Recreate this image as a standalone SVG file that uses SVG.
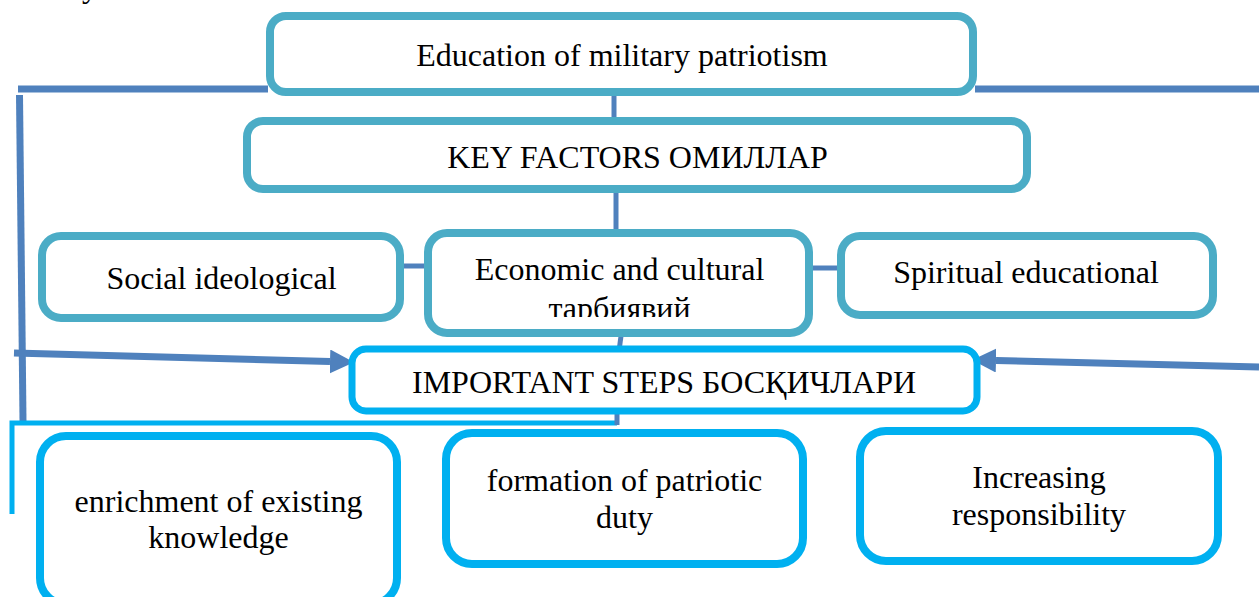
<svg xmlns="http://www.w3.org/2000/svg" width="1259" height="597" viewBox="0 0 1259 597">
<style>
  .teal { fill: #ffffff; stroke: #4BACC6; stroke-width: 8; }
  .cyan { fill: #ffffff; stroke: #00B0F0; stroke-width: 8; }
  .t { font-family: "Liberation Serif", "Times New Roman", serif; font-size: 32px; fill: #000000; text-anchor: middle; }
  .c { stroke: #4F81BD; stroke-width: 7; fill: none; }
  .cs { stroke: #4F81BD; stroke-width: 5; fill: none; }
  .cc { stroke: #00B0F0; stroke-width: 5; fill: none; }
</style>
<defs>
  <marker id="arr" markerUnits="userSpaceOnUse" viewBox="0 0 24 24" refX="0" refY="12" markerWidth="24" markerHeight="24" orient="auto">
    <path d="M0,0 L24,12 L0,24 Z" fill="#4F81BD"/>
  </marker>
  <clipPath id="ecoClip"><rect x="428" y="233" width="381" height="84"/></clipPath>
</defs>
<rect width="1259" height="597" fill="#ffffff"/>

<text class="t" x="82" y="-3" text-anchor="start" style="text-anchor:start">y</text>

<g id="connectors">
  <line class="c" x1="18" y1="89" x2="268" y2="89"/>
  <line class="c" x1="975" y1="89" x2="1259" y2="89"/>
  <line class="c" x1="19.5" y1="95" x2="23" y2="421"/>
  <line class="c" x1="14" y1="353" x2="330" y2="361.5" marker-end="url(#arr)"/>
  <line class="c" x1="1259" y1="367" x2="996" y2="360.5" marker-end="url(#arr)"/>
  <line class="cs" x1="614" y1="94" x2="614" y2="123"/>
  <line class="cs" x1="616" y1="191" x2="616" y2="235"/>
  <line class="cs" x1="402" y1="266" x2="425" y2="266"/>
  <line class="cs" x1="813" y1="268" x2="839" y2="268"/>
  <line class="cs" x1="621" y1="336" x2="619" y2="351"/>
  <polyline class="cc" points="617,423 12,423 12,514"/>
  <line class="cs" x1="617" y1="411" x2="617" y2="425"/>
</g>

<g id="node-education">
  <rect class="teal" x="270" y="16" width="703" height="76" rx="16"/>
  <text class="t" x="622" y="66">Education of military patriotism</text>
</g>
<g id="node-keyfactors">
  <rect class="teal" x="247" y="121" width="780" height="68" rx="16"/>
  <text class="t" x="637.5" y="168">KEY FACTORS ОМИЛЛАР</text>
</g>
<g id="node-social">
  <rect class="teal" x="42" y="236" width="358" height="82" rx="19"/>
  <text class="t" x="221.5" y="289">Social ideological</text>
</g>
<g id="node-economic">
  <rect class="teal" x="428" y="233" width="381" height="100" rx="19"/>
  <text class="t" x="619.5" y="280">Economic and cultural</text>
  <text class="t" x="619.5" y="319" clip-path="url(#ecoClip)">тарбиявий</text>
</g>
<g id="node-spiritual">
  <rect class="teal" x="841" y="236" width="372" height="79" rx="19"/>
  <text class="t" x="1026" y="283">Spiritual educational</text>
</g>
<g id="node-important">
  <rect class="cyan" x="352" y="349" width="625" height="62" rx="14" style="stroke-width:7"/>
  <text class="t" x="664" y="393">IMPORTANT STEPS БОСҚИЧЛАРИ</text>
</g>
<g id="node-enrichment">
  <rect class="cyan" x="40" y="436" width="357" height="168" rx="26"/>
  <text class="t" x="218.5" y="512">enrichment of existing</text>
  <text class="t" x="218.5" y="548">knowledge</text>
</g>
<g id="node-formation">
  <rect class="cyan" x="446" y="433" width="357" height="131" rx="26"/>
  <text class="t" x="624.5" y="491">formation of patriotic</text>
  <text class="t" x="624.5" y="528">duty</text>
</g>
<g id="node-increasing">
  <rect class="cyan" x="860" y="431" width="358" height="130" rx="26"/>
  <text class="t" x="1039" y="488">Increasing</text>
  <text class="t" x="1039" y="525">responsibility</text>
</g>
</svg>
